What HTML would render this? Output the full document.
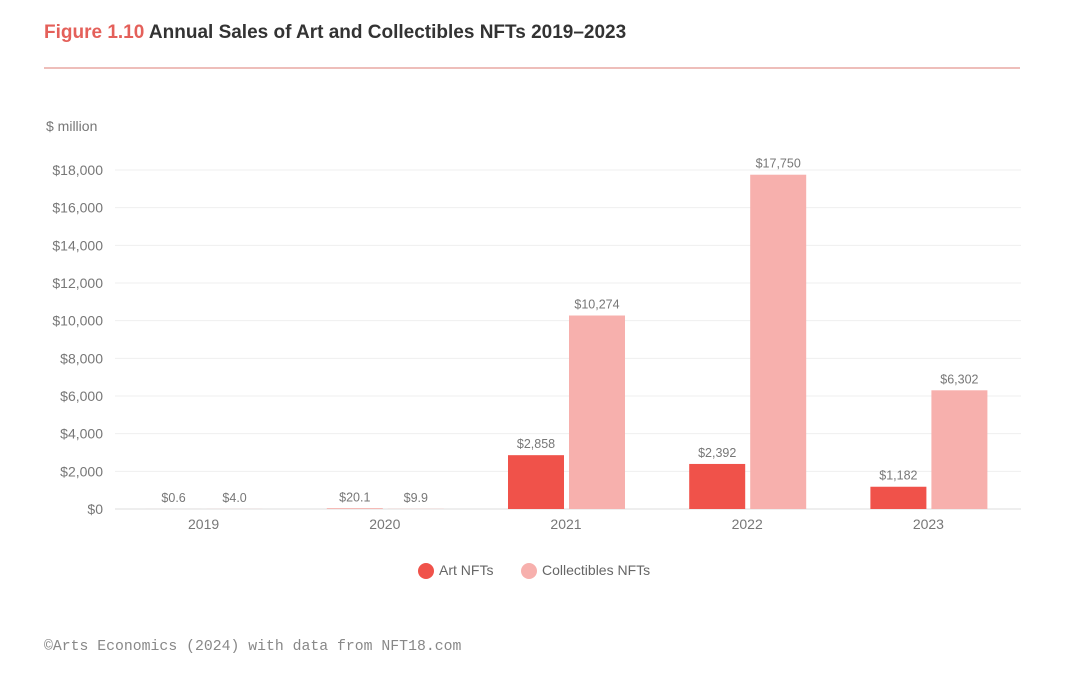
<!DOCTYPE html>
<html><head><meta charset="utf-8"><style>
body{margin:0;background:#fff;width:1080px;height:681px;overflow:hidden;font-family:"Liberation Sans",sans-serif}
</style></head><body>
<svg width="1080" height="681">
<text x="44" y="38" font-size="19" font-weight="bold" fill="#333"><tspan fill="#e4605a">Figure 1.10</tspan> Annual Sales of Art and Collectibles NFTs 2019–2023</text>
<line x1="44" y1="68" x2="1020" y2="68" stroke="#e9a8a3" stroke-width="1.5"/>
<text x="46" y="131" font-size="14" fill="#777">$ million</text>
<g id="grid"></g><g id="bars"></g><g id="labels"></g>
<g>
<circle cx="426" cy="571" r="8" fill="#f0524a"/>
<text x="439" y="575" font-size="14" fill="#666">Art NFTs</text>
<circle cx="529" cy="571" r="8" fill="#f7b0ad"/>
<text x="542" y="575" font-size="14" fill="#666">Collectibles NFTs</text>
</g>
<text x="44" y="650" font-size="14.8" fill="#888" font-family="Liberation Mono,monospace">©Arts Economics (2024) with data from NFT18.com</text>
</svg>
<script>
const categories=["2019","2020","2021","2022","2023"];
const artValues=[0.6,20.1,2858,2392,1182];
const collValues=[4.0,9.9,10274,17750,6302];
const artLabels=["$0.6","$20.1","$2,858","$2,392","$1,182"];
const collLabels=["$4.0","$9.9","$10,274","$17,750","$6,302"];
const yTicks=[0,2000,4000,6000,8000,10000,12000,14000,16000,18000];
const NS="http://www.w3.org/2000/svg";
const y0=509,yTop=170,yMax=18000,x0=113,x1=1019;
const y=v=>y0-(v/yMax)*(y0-yTop);
const band=(x1-x0)/categories.length;
const cx=i=>x0+band*(i+0.5);
function mk(t,a,p){const e=document.createElementNS(NS,t);for(const k in a)e.setAttribute(k,a[k]);p.appendChild(e);return e;}
const grid=document.getElementById('grid'),bars=document.getElementById('bars'),labels=document.getElementById('labels');
yTicks.forEach(v=>{
 const l=mk('line',{x1:115,x2:1021,y1:y(v),y2:y(v),stroke:v===0?'#ddd':'#efefef','stroke-width':1},grid);
 
 
 const t=mk('text',{x:103,y:y(v)+5,'text-anchor':'end','font-size':14,fill:'#777'},grid);
 t.textContent='$'+v.toLocaleString('en-US');
 
 
});
categories.forEach((c,i)=>{
 const c0=cx(i);
 const a=mk('rect',{x:c0-58,y:y(artValues[i]),width:56,height:y0-y(artValues[i]),fill:'#f0524a'},bars);
 
 
 const b=mk('rect',{x:c0+3,y:y(collValues[i]),width:56,height:y0-y(collValues[i]),fill:'#f7b0ad'},bars);
 
 
 const ta=mk('text',{x:c0-30,y:y(artValues[i])-7,'text-anchor':'middle','font-size':12.5,fill:'#777'},labels);
 ta.textContent=artLabels[i];
 
 
 const tb=mk('text',{x:c0+31,y:y(collValues[i])-7,'text-anchor':'middle','font-size':12.5,fill:'#777'},labels);
 tb.textContent=collLabels[i];
 
 
 const tx=mk('text',{x:c0,y:529,'text-anchor':'middle','font-size':14,fill:'#777'},labels);
 tx.textContent=c;
 
 
});
</script>
</body></html>
